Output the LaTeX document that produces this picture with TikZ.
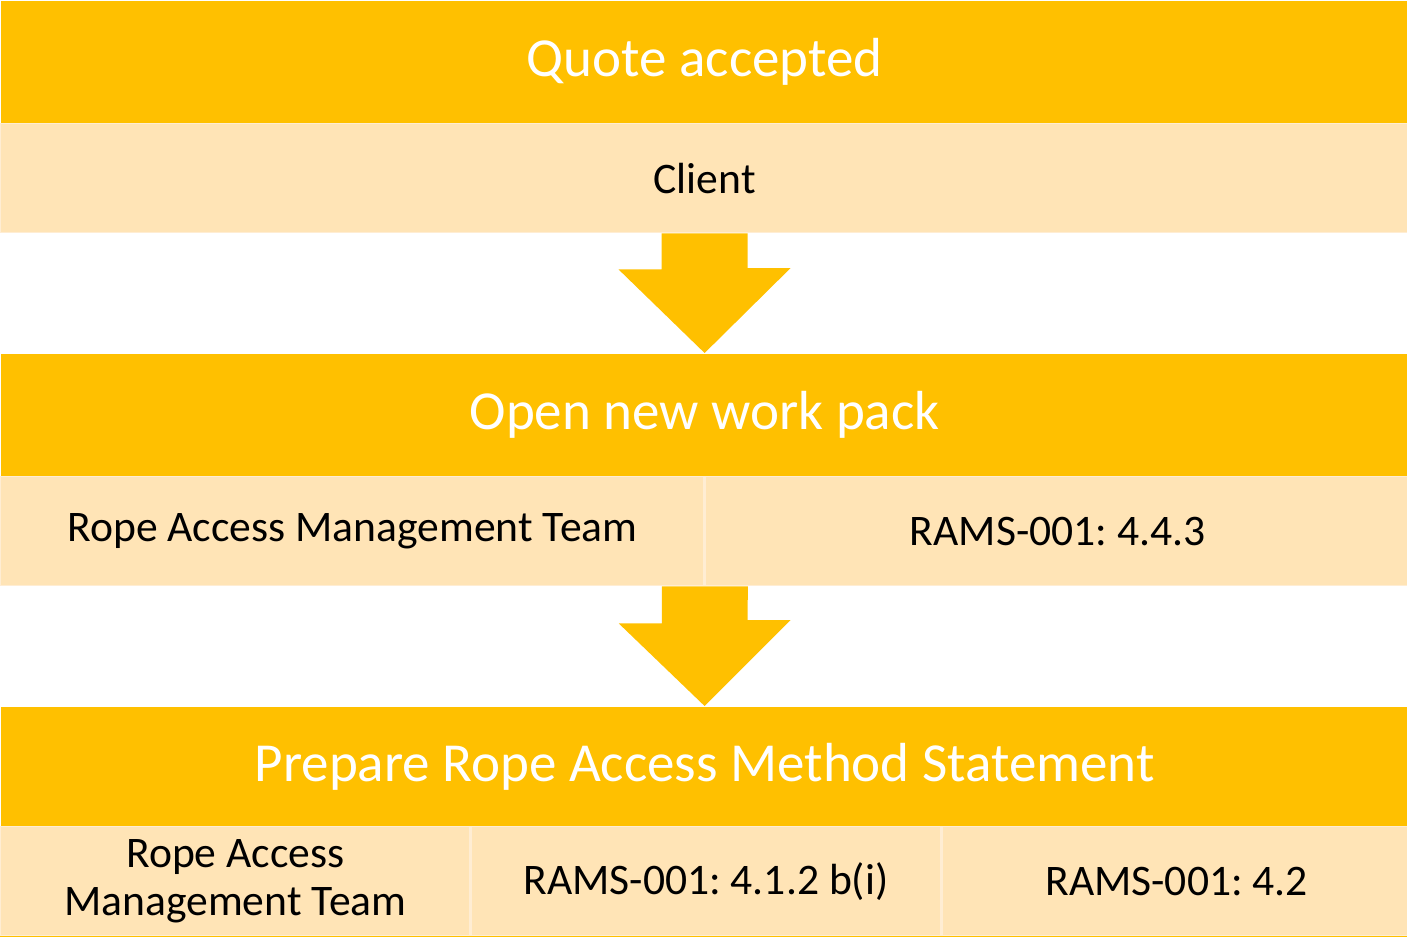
\documentclass[tikz,border=0pt]{standalone}
\usepackage{fontspec}
\setmainfont{Carlito}
\usetikzlibrary{calc}
\usetikzlibrary{positioning}
\definecolor{gold}{HTML}{FFC000}
\definecolor{pale}{HTML}{FFE4B6}
\definecolor{seam}{HTML}{FFEDD3}
\frenchspacing

\begin{document}
\begin{tikzpicture}[x=0.01cm, y=-0.01cm,
        band/.style={fill=gold, text=white, font=\fontsize{15.65}{18}\selectfont, minimum width=14.07cm, minimum height=1.23cm, anchor=north west, inner sep=0pt},
        cell/.style={fill=pale, draw=seam, line width=0.4pt, font=\fontsize{12.4}{13.4}\selectfont, minimum height=1.09cm, anchor=north west, inner sep=0pt, align=center}]
        \useasboundingbox (0,0) rectangle (1407,938);
        \node [band] (quote) at (0,0) {Quote accepted};
        \node [cell, minimum width=14.07cm] (client) at (0,123) {Client};
        \node [band] (open) at (0,353) {Open new work pack};
        \node [cell, minimum width=7.03cm] (team1) at (0,476) {Rope Access Management Team};
        \node [cell, minimum width=7.04cm, right=0pt of team1] (rams1) {RAMS-001: 4.4.3};
        \node [band, minimum height=1.20cm] (prep) at (0,706) {Prepare Rope Access Method Statement};
        \node [cell, minimum width=4.69cm] (team2) at (0,826) {Rope Access\\Management Team};
        \node [cell, minimum width=4.69cm, right=0pt of team2] (rams2) {RAMS-001: 4.1.2 b(i)};
        \node [cell, minimum width=4.69cm, right=0pt of rams2] (rams3) {RAMS-001: 4.2};
        \fill[gold] ($(client.south)+(-43,0)$) -- ++(0,36) -- ++(-43,0) -- (open.north) -- ++(86,-85) -- ++(-43,0) -- ($(client.south)+(43,0)$) -- cycle;
        \fill[gold] ($(team1.south east)+(-43,0)$) -- ++(0,37) -- ++(-43,0) -- (prep.north) -- ++(86,-86) -- ++(-43,0) -- ($(team1.south east)+(43,0)$) -- cycle;
        \draw[gold, line width=0.5pt] (team2.south west) -- (rams3.south east);
    \end{tikzpicture}
\end{document}
